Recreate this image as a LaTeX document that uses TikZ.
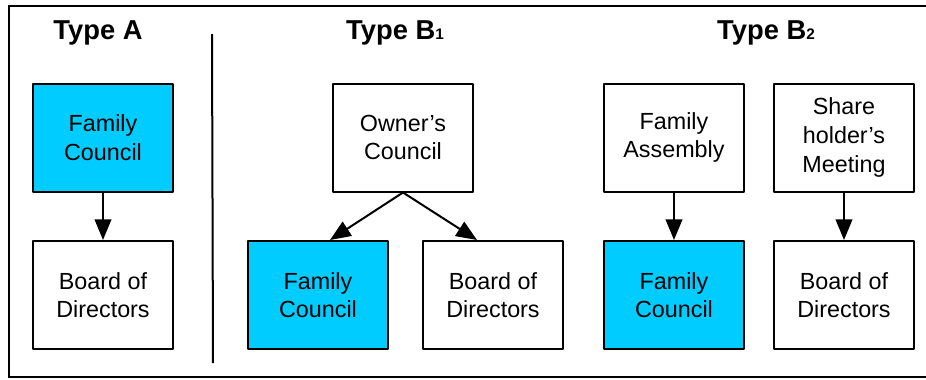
\documentclass[tikz,border=0pt]{standalone}
\usepackage{fontspec}
\setmainfont{Liberation Sans}
\usetikzlibrary{arrows.meta}
\definecolor{famblue}{RGB}{0,204,255}
\tikzset{
 box/.style={draw, line width=1.5pt, minimum width=105pt, minimum height=81pt,
  inner sep=0pt, align=center, font=\fontsize{17.5}{21.5}\selectfont},
 fambox/.style={box, fill=famblue},
 title/.style={font=\fontsize{20.5}{23}\selectfont\bfseries},
 link/.style={line width=1.5pt, -{Triangle[width=12.5pt,length=15.5pt]}}
}
\newcommand{\sub}[1]{{\fontsize{11.5}{12}\selectfont #1}}
\begin{document}
\begin{tikzpicture}[x=0.75pt, y=-0.75pt, line join=round]
 \useasboundingbox (0,0) rectangle (926,379);
 \draw[line width=1.5pt, line join=miter] (930,6) -- (9,6) -- (9,377) -- (930,377);
 \draw[line width=1.5pt] (212,34) -- (213,363);
 % titles
 \node[title] (tA) at (98,33) {Type A};
 \node[title] (tB) at (395,33) {Type B\sub{1}};
 \node[title] (tC) at (766,33) {Type B\sub{2}};
 % type A
 \node[fambox] (fcA) at (103,137.5) {Family\\Council};
 \node[box] (bdA) at (103,295) {Board of\\Directors};
 \draw[link] (fcA) -- (bdA);
 % type B1
 \node[box] (owner) at (403,137.5) {Owner’s\\Council};
 \node[fambox] (fcB) at (318,295) {Family\\Council};
 \node[box] (bdB) at (493,295) {Board of\\Directors};
 \draw[link] (owner.south) -- ([xshift=9pt]fcB.north);
 \draw[link] (owner.south) -- ([xshift=-12pt]bdB.north);
 % type B2
 \node[box] (faC) at (674,137.5) {Family\\Assembly};
 \node[box] (shC) at (844,137.5) {Share\\holder’s\\Meeting};
 \node[fambox] (fcC) at (674,295) {Family\\Council};
 \node[box] (bdC) at (844,295) {Board of\\Directors};
 \draw[link] (faC) -- (fcC);
 \draw[link] (shC) -- (bdC);
\end{tikzpicture}
\end{document}
